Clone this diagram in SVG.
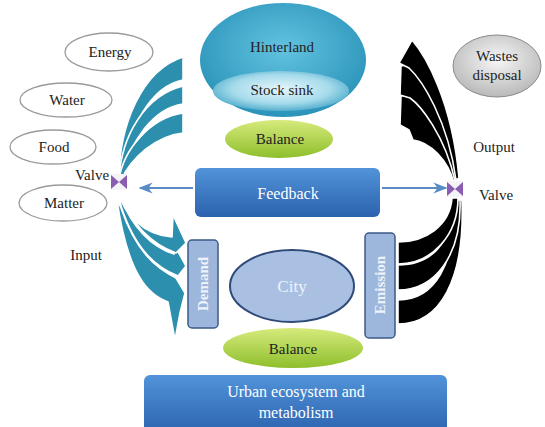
<svg xmlns="http://www.w3.org/2000/svg" width="545" height="427" viewBox="0 0 545 427">
<defs>
<radialGradient id="gHint" cx="0.5" cy="0.4" r="0.6"><stop offset="0" stop-color="#62c3e0"/><stop offset="1" stop-color="#2b93b9"/></radialGradient>
<radialGradient id="gStock" cx="0.5" cy="0.45" r="0.6"><stop offset="0" stop-color="#e6f6fb"/><stop offset="0.6" stop-color="#a6dbeb"/><stop offset="1" stop-color="#3fa3c6"/></radialGradient>
<linearGradient id="gGreen" x1="0" y1="0" x2="0" y2="1"><stop offset="0" stop-color="#d6ea7c"/><stop offset="1" stop-color="#8ebf2c"/></linearGradient>
<linearGradient id="gBlue" x1="0" y1="0" x2="0" y2="1"><stop offset="0" stop-color="#5193d9"/><stop offset="1" stop-color="#2b62ae"/></linearGradient>
<radialGradient id="gGrey" cx="0.5" cy="0.4" r="0.6"><stop offset="0" stop-color="#f7f7f7"/><stop offset="1" stop-color="#b9b9b9"/></radialGradient>
<marker id="ah" viewBox="0 0 10 10" refX="9" refY="5" markerWidth="7" markerHeight="7" orient="auto-start-reverse"><path d="M0,1 L10,5 L0,9 L3,5 Z" fill="#5b8bc6"/></marker>
<style>
text{font-family:"Liberation Serif","Times New Roman",serif;text-anchor:middle;}
.lbl{font-size:15px;fill:#222;}
.res{fill:#fff;stroke:#9a9a9a;stroke-width:1.3;}
.teal{fill:#2c8fae;stroke:#fff;stroke-width:1.6;stroke-linejoin:round;}
.blk{fill:#000;stroke:#fff;stroke-width:1.6;stroke-linejoin:round;}
.wt{font-size:16px;fill:#fff;}
.vb{fill:#9db7dc;stroke:#3d5a88;stroke-width:1.5;}
.vtxt{font-size:15px;fill:#eef2fa;font-weight:bold;}
.conn{stroke:#5b8bc6;stroke-width:2;fill:none;}
</style>
</defs>
<rect width="545" height="427" fill="#fff"/>

<g id="resources">
<g id="energy"><ellipse class="res" cx="109" cy="52" rx="44" ry="19"/><text class="lbl" x="110" y="57">Energy</text></g>
<g id="water"><ellipse class="res" cx="66" cy="100" rx="46" ry="17"/><text class="lbl" x="67" y="105">Water</text></g>
<g id="food"><ellipse class="res" cx="53" cy="147" rx="43" ry="17"/><text class="lbl" x="54" y="152">Food</text></g>
<g id="matter"><ellipse class="res" cx="63" cy="203" rx="44" ry="18"/><text class="lbl" x="64" y="208">Matter</text></g>
</g>

<g id="wastes"><ellipse cx="497" cy="66" rx="44" ry="31" fill="url(#gGrey)" stroke="#8a8a8a" stroke-width="1"/><text class="lbl" x="497" y="61">Wastes</text><text class="lbl" x="497" y="80">disposal</text></g>

<g id="connectors">
<!-- input upper teal bands -->
<path class="teal" d="M119,180 C119,125 142,70 183,57 L183,80 C152,86 128,125 121,180 Z"/>
<path class="teal" d="M119,180 C121,135 146,95 183,86 L183,104 C154,108 130,140 121,180 Z"/>
<path class="teal" d="M119,180 C123,150 150,118 183,113 L183,133 C156,136 132,157 121,180 Z"/>
<!-- input lower teal bands -->
<path class="teal" d="M121,208 C136,252 156,268 176,278 L185,293 L180,313 L175,340 L168,302 C148,295 128,275 117,200 Z"/>
<path class="teal" d="M120,196 C132,228 152,247 174,254 L176,248 L186,266 L178,276 C158,268 136,252 121,206 Z"/>
<path class="teal" d="M118,188 C122,215 145,235 172,237 L173,215 L186,243 L176,253 C152,244 132,224 119,195 Z"/>
<!-- output lower black bands -->
<path class="blk" d="M398,300 C435,300 455,265 456,200 L462,200 C465,280 440,324 398,324 Z"/>
<path class="blk" d="M398,265 C430,265 452,245 454,200 L460,200 C462,255 435,290 398,290 Z"/>
<path class="blk" d="M398,242 C425,242 450,226 452,198 L458,198 C458,235 432,264 398,264 Z"/>
<!-- output upper black bands -->
<path class="blk" d="M401,96 L412,94 C430,105 452,125 459,178 L454,183 C448,160 430,142 413,140 L409,130 L400,125 Z"/>
<path class="blk" d="M401,66 L412,64 C430,75 452,105 459,178 L455,181 C445,135 420,105 410,98 L400,95 Z"/>
<path class="blk" d="M412,40 C425,55 452,100 459,178 L456,180 C448,120 422,80 409,68 L399,63 Z"/>
<!-- feedback arrows -->
<line class="conn" x1="193" y1="188" x2="140" y2="188" marker-end="url(#ah)"/>
<line class="conn" x1="382" y1="188" x2="446" y2="188" marker-end="url(#ah)"/>
</g>

<g id="valve-left">
<rect x="111" y="174" width="16" height="16" fill="#f4f4f6"/>
<path d="M111,175 L119,182 L111,189 Z M127,175 L119,182 L127,189 Z" fill="#8a5cb2"/>
<text class="lbl" x="92" y="180">Valve</text>
</g>
<g id="valve-right">
<rect x="447" y="181" width="16" height="16" fill="#f4f4f6"/>
<path d="M447,182 L455,189 L447,196 Z M463,182 L455,189 L463,196 Z" fill="#8a5cb2"/>
<text class="lbl" x="496" y="200">Valve</text>
</g>
<g id="output-label"><text class="lbl" x="494" y="152">Output</text></g>
<g id="input-label"><text class="lbl" x="86" y="260">Input</text></g>

<g id="hinterland">
<ellipse cx="283" cy="60" rx="83" ry="57" fill="url(#gHint)"/>
<text class="lbl" x="282" y="52" fill="#13303f">Hinterland</text>
</g>
<g id="stock-sink">
<ellipse cx="281" cy="91" rx="68" ry="20" fill="url(#gStock)"/>
<text class="lbl" x="282" y="95">Stock sink</text>
</g>
<g id="balance-top">
<ellipse cx="279" cy="139" rx="54" ry="19" fill="url(#gGreen)"/>
<text class="lbl" x="280" y="144">Balance</text>
</g>

<g id="feedback">
<rect x="195" y="168" width="185" height="49" rx="6" fill="url(#gBlue)"/>
<text class="wt" x="288" y="199">Feedback</text>
</g>

<g id="demand">
<rect class="vb" x="188" y="240" width="30" height="88" rx="4"/>
<text class="vtxt" transform="translate(208,284) rotate(-90)">Demand</text>
</g>
<g id="city">
<ellipse cx="292" cy="286" rx="62" ry="36" fill="#a9c0e2" stroke="#2e4a78" stroke-width="2"/>
<text x="292" y="292" style="font-size:17px;fill:#eef3fb">City</text>
</g>
<g id="emission">
<rect class="vb" x="365" y="233" width="30" height="105" rx="4"/>
<text class="vtxt" transform="translate(385,285) rotate(-90)">Emission</text>
</g>
<g id="balance-bottom">
<ellipse cx="293" cy="348" rx="70" ry="20" fill="url(#gGreen)"/>
<text class="lbl" x="293" y="354">Balance</text>
</g>
<g id="urban">
<rect x="144" y="375" width="303" height="60" rx="6" fill="url(#gBlue)"/>
<text class="wt" x="296" y="397">Urban ecosystem and</text>
<text class="wt" x="296" y="418">metabolism</text>
</g>
</svg>
